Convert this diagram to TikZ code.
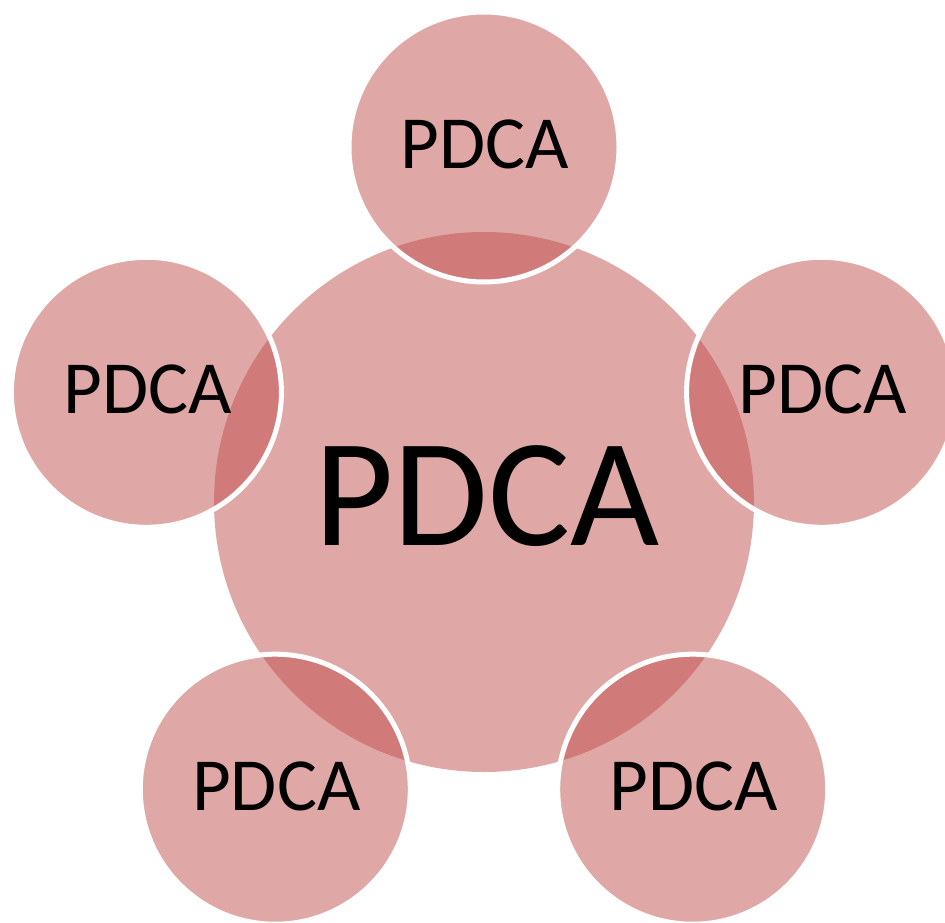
\documentclass[tikz,border=0pt]{standalone}
\usepackage{fontspec}
\setmainfont{Carlito}
\definecolor{accent}{HTML}{C0504D}
\begin{document}
\begin{tikzpicture}[x=1pt,y=-1pt,
  bubble/.style={circle, inner sep=0pt, outer sep=0pt, fill=accent, fill opacity=0.5},
  hub/.style={bubble, minimum size=540pt},
  satellite/.style={bubble, minimum size=270pt, draw=white, draw opacity=1, line width=5pt},
  hubtext/.style={inner sep=0pt, text=black, font=\fontsize{154}{160}\selectfont},
  sattext/.style={inner sep=0pt, text=black, font=\fontsize{75}{80}\selectfont}]
\clip (0,0) rectangle (945,923);
% central circle
\node[hub] (hub) at (484,502) {};
% five circles around it, white rims drawn over the centre
\node[satellite] (top)    at (484,147) {};
\node[satellite] (right)  at (821.6,392.3) {};
\node[satellite] (bright) at (692.7,789.2) {};
\node[satellite] (bleft)  at (275.3,789.2) {};
\node[satellite] (left)   at (146.4,392.3) {};
% labels
\node[hubtext] (hubtext) at ([xshift=3pt,yshift=6pt]hub.center) {PDCA};
\foreach \n in {top,right,bright,bleft,left}
  \node[sattext] (\n text) at ([xshift=1pt,yshift=3pt]\n.center) {PDCA};
\end{tikzpicture}
\end{document}
